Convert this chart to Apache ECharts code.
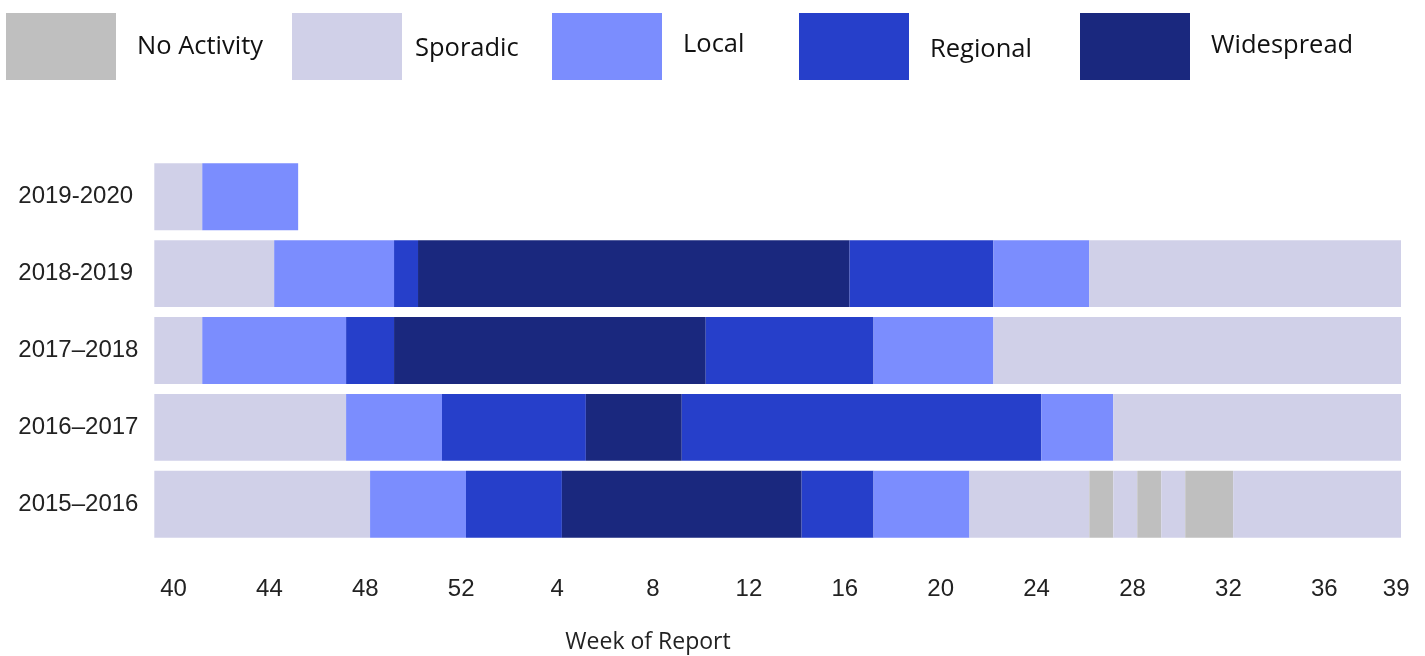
<!DOCTYPE html>
<html>
<head>
<meta charset="utf-8">
<script src="https://cdn.jsdelivr.net/npm/echarts@6/dist/echarts.min.js"></script>
<style>
  html, body { margin: 0; padding: 0; background: #fff; }
  #main { width: 1425px; height: 656px; }
</style>
</head>
<body>
<div id="main"></div>
<script>
// activity levels, lowest to highest
const levels = ['No Activity', 'Sporadic', 'Local', 'Regional', 'Widespread'];
const levelColors = ['#bfbfbf', '#d0d0e8', '#7b8dfe', '#263fca', '#1a287e'];

// seasons, bottom row first (category axis draws from the bottom up)
const seasons = ['2015–2016', '2016–2017', '2017–2018', '2018-2019', '2019-2020'];

// runs per season: [level, first week, last week] (week 40 .. 52, then 1 .. 39)
const season2015 = [
  ['Sporadic', 40, 48], ['Local', 49, 52], ['Regional', 1, 4], ['Widespread', 5, 14],
  ['Regional', 15, 17], ['Local', 18, 21], ['Sporadic', 22, 26], ['No Activity', 27, 27],
  ['Sporadic', 28, 28], ['No Activity', 29, 29], ['Sporadic', 30, 30], ['No Activity', 31, 32],
  ['Sporadic', 33, 39]
];
const season2016 = [
  ['Sporadic', 40, 47], ['Local', 48, 51], ['Regional', 52, 5], ['Widespread', 6, 9],
  ['Regional', 10, 24], ['Local', 25, 27], ['Sporadic', 28, 39]
];
const season2017 = [
  ['Sporadic', 40, 41], ['Local', 42, 47], ['Regional', 48, 49], ['Widespread', 50, 10],
  ['Regional', 11, 17], ['Local', 18, 22], ['Sporadic', 23, 39]
];
const season2018 = [
  ['Sporadic', 40, 44], ['Local', 45, 49], ['Regional', 50, 50], ['Widespread', 51, 16],
  ['Regional', 17, 22], ['Local', 23, 26], ['Sporadic', 27, 39]
];
const season2019 = [
  ['Sporadic', 40, 41], ['Local', 42, 45]
];
const seasonRuns = [season2015, season2016, season2017, season2018, season2019];

// x axis tick labels (weeks)
const tickWeeks = [40, 44, 48, 52, 4, 8, 12, 16, 20, 24, 28, 32, 36, 39];

// week number -> slot on the axis (week 40 is slot 0, week 39 is slot 51)
function slot(week) {
  return week >= 40 ? week - 40 : week + 12;
}
function weekOf(s) {
  return s < 13 ? s + 40 : s - 12;
}

const cells = [];
seasonRuns.forEach((runs, si) => {
  runs.forEach(r => {
    cells.push([slot(r[1]), slot(r[2]) + 1, si, levels.indexOf(r[0])]);
  });
});

const chart = echarts.init(document.getElementById('main'));

// legend drawn by hand: boxes and labels sit at uneven spacing in the original
const legendX = [6, 292, 552, 799, 1080];
const legendTextX = [137, 415, 683, 930, 1211];
const legendTextY = [47, 49, 45, 50, 46];
const legendGraphics = [];
levels.forEach((name, i) => {
  legendGraphics.push({
    type: 'rect',
    shape: { x: legendX[i], y: 13, width: 110, height: 67 },
    style: { fill: levelColors[i] }
  });
  legendGraphics.push({
    type: 'text',
    x: legendTextX[i],
    y: legendTextY[i],
    style: {
      text: name,
      font: '25.5px "Open Sans"',
      fill: '#111',
      verticalAlign: 'middle'
    }
  });
});

const option = {
  animation: false,
  grid: {
    left: 154.3,
    right: 24,
    top: 158.3,
    bottom: 113.3
  },
  xAxis: {
    type: 'value',
    min: 0,
    max: 52,
    splitLine: { show: false },
    axisLine: { show: false },
    axisTick: { show: false },
    axisLabel: {
      customValues: tickWeeks.map(w => slot(w) + 0.8),
      formatter: v => String(weekOf(Math.round(v - 0.8))),
      margin: 35,
      fontSize: 24,
      fontFamily: '"Liberation Sans", Arial, sans-serif',
      color: '#222'
    }
  },
  yAxis: {
    type: 'category',
    data: seasons,
    axisLine: { show: false },
    axisTick: { show: false },
    splitLine: { show: false },
    axisLabel: {
      align: 'left',
      margin: 136,
      padding: [5, 0, 0, 0],
      fontSize: 24,
      fontFamily: '"Liberation Sans", Arial, sans-serif',
      color: '#222'
    }
  },
  graphic: legendGraphics.concat([
    {
      type: 'text',
      x: 648,
      y: 642,
      style: {
        text: 'Week of Report',
        font: '23px "Open Sans"',
        fill: '#222',
        align: 'center',
        verticalAlign: 'middle'
      }
    }
  ]),
  series: [
    {
      type: 'custom',
      data: cells,
      encode: { x: [0, 1], y: 2 },
      renderItem(params, api) {
        const start = api.coord([api.value(0), api.value(2)]);
        const end = api.coord([api.value(1), api.value(2)]);
        const h = api.size([0, 1])[1] * 0.87;
        return {
          type: 'rect',
          shape: { x: start[0], y: start[1] - h / 2, width: end[0] - start[0], height: h },
          style: { fill: levelColors[api.value(3)] }
        };
      }
    }
  ]
};

chart.setOption(option);
</script>
</body>
</html>
